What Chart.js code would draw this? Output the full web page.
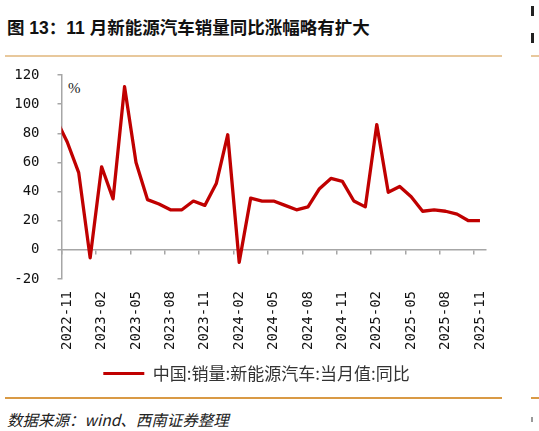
<!DOCTYPE html>
<html>
<head>
<meta charset="utf-8">
<script src="https://cdn.jsdelivr.net/npm/chart.js@4.4.1/dist/chart.umd.min.js"></script>
<style>
    html, body { margin: 0; padding: 0; background: #fff; }
    body { width: 539px; height: 431px; position: relative; overflow: hidden; }
    .title { position: absolute; left: 7px; top: 14px; font: bold 17.5px "Liberation Sans", "Noto Sans CJK SC", sans-serif; color: #111; white-space: nowrap; }
    .rule { position: absolute; height: 2px; }
    .rule-top { left: 5px; top: 55px; width: 497px; background: #e8c89c; }
    .rule-bottom { left: 5px; top: 397px; width: 497px; background: #d99a45; }
    .edge { position: absolute; left: 531px; width: 8px; height: 2px; }
    .frag { position: absolute; left: 531px; width: 2.5px; background: #222; }
    .source { position: absolute; left: 7px; top: 408px; font: italic 15.5px "Noto Sans CJK SC", sans-serif; color: #222; white-space: nowrap; }
    .unit { position: absolute; left: 68px; top: 80px; font: 15px "Liberation Serif", serif; color: #222; }
    #wrap { position: absolute; left: 0; top: 60px; width: 513px; height: 332px; }
</style>
</head>
<body>
<div class="title">图 13：11 月新能源汽车销量同比涨幅略有扩大</div>
<div class="rule rule-top"></div>
<div class="edge" style="top:55px;background:#e8c89c"></div>
<div class="frag" style="top:6px;height:10px"></div>
<div class="frag" style="top:33px;height:10px"></div>
<div class="unit">%</div>
<div id="wrap"><canvas id="nevChart"></canvas></div>
<div class="rule rule-bottom"></div>
<div class="edge" style="top:397px;background:#d99a45"></div>
<div class="frag" style="top:417px;height:5px;background:#999;width:2px"></div>
<div class="source">数据来源：wind、西南证券整理</div>

<script>
// months; the first one sits just left of the visible axis and is clipped
var months = [
    '2022-10', '2022-11', '2022-12',
    '2023-01', '2023-02', '2023-03', '2023-04', '2023-05', '2023-06',
    '2023-07', '2023-08', '2023-09', '2023-10', '2023-11', '2023-12',
    '2024-01', '2024-02', '2024-03', '2024-04', '2024-05', '2024-06',
    '2024-07', '2024-08', '2024-09', '2024-10', '2024-11', '2024-12',
    '2025-01', '2025-02', '2025-03', '2025-04', '2025-05', '2025-06',
    '2025-07', '2025-08', '2025-09', '2025-10', '2025-11'
];

// 中国:销量:新能源汽车:当月值:同比 (%)
var nevYoy = [
    90, 74, 53,
    -5.5, 57, 35, 112, 60, 34.5,
    31.5, 27.5, 27.5, 33.5, 30.5, 45.5,
    79, -8.5, 35.5, 33.5, 33.5, 30.5,
    27.5, 29.5, 42, 49, 47, 33.5,
    29.5, 86, 39.5, 43.5, 36.5, 26.5,
    27.5, 26.5, 24.5, 20, 20
];

var firstMonth = '2022-11';
var yTicks = [-20, 0, 20, 40, 60, 80, 100, 120];
var seriesName = '中国:销量:新能源汽车:当月值:同比';

(function() {
    'use strict';

    var AXIS_GREY = '#a6a6a6';
    var RED = '#c00000';

    function everyThird(value) {
        return (value - 1) % 3 === 0;
    }

    function renderChart() {
        var canvas = document.getElementById('nevChart');
        if (!canvas || typeof Chart === 'undefined') return;

        new Chart(canvas, {
            type: 'line',
            data: {
                labels: months,
                datasets: [{
                    label: seriesName,
                    data: nevYoy,
                    borderColor: RED,
                    backgroundColor: RED,
                    borderWidth: 3.3,
                    borderJoinStyle: 'round',
                    pointRadius: 0,
                    tension: 0,
                    clip: { left: 0, top: 6, right: 6, bottom: 6 },
                    xAxisID: 'x'
                }]
            },
            options: {
                responsive: true,
                maintainAspectRatio: false,
                animation: false,
                layout: { padding: { top: 15, right: 0, left: 0, bottom: 0 } },
                plugins: {
                    tooltip: { enabled: false },
                    legend: {
                        position: 'bottom',
                        labels: {
                            boxWidth: 41,
                            boxHeight: 3,
                            padding: 10,
                            color: '#333',
                            font: { family: '"Noto Sans CJK SC", sans-serif', size: 17 },
                            generateLabels: function(chart) {
                                var items = Chart.defaults.plugins.legend.labels.generateLabels(chart);
                                items.forEach(function(it) { it.lineWidth = 0; });
                                return items;
                            }
                        }
                    }
                },
                scales: {
                    x: {
                        type: 'category',
                        position: 'bottom',
                        min: firstMonth,
                        offset: true,
                        grid: { display: false, drawTicks: false },
                        border: { display: false },
                        ticks: {
                            autoSkip: false,
                            minRotation: 90,
                            maxRotation: 90,
                            padding: 12,
                            color: '#111',
                            font: { family: '"DejaVu Sans Mono", monospace', size: 14 },
                            callback: function(value) {
                                return everyThird(value) ? this.getLabelForValue(value) : '';
                            }
                        },
                        afterFit: function(scale) {
                            scale.height = 76;
                            scale.paddingLeft = 0;
                            scale.paddingRight = 0;
                        }
                    },
                    x0: {
                        type: 'category',
                        axis: 'x',
                        position: { y: 0 },
                        min: firstMonth,
                        offset: true,
                        ticks: { display: false, autoSkip: false },
                        border: { color: AXIS_GREY, width: 1.5 },
                        grid: {
                            offset: true,
                            drawOnChartArea: false,
                            drawTicks: true,
                            tickLength: 4,
                            lineWidth: 1.5,
                            color: function(ctx) {
                                if (!ctx.tick) return 'rgba(0,0,0,0)';
                                return everyThird(ctx.tick.value) ? AXIS_GREY : 'rgba(0,0,0,0)';
                            }
                        }
                    },
                    y: {
                        min: yTicks[0],
                        max: yTicks[yTicks.length - 1],
                        afterBuildTicks: function(scale) {
                            scale.ticks = yTicks.map(function(v) { return { value: v }; });
                        },
                        border: { color: AXIS_GREY, width: 1.5 },
                        grid: {
                            drawOnChartArea: false,
                            drawTicks: true,
                            tickLength: 4,
                            lineWidth: 1.5,
                            color: AXIS_GREY
                        },
                        ticks: {
                            padding: 18,
                            color: '#111',
                            font: { family: '"DejaVu Sans Mono", monospace', size: 14 }
                        },
                        afterFit: function(scale) {
                            scale.width = 61.5;
                            scale.paddingTop = 8;
                            scale.paddingBottom = 8;
                        }
                    },
                    // empty right-hand strip, keeps the plot narrower than the legend row
                    yRight: {
                        type: 'linear',
                        position: 'right',
                        grid: { display: false },
                        border: { display: false },
                        ticks: { display: false },
                        afterFit: function(scale) {
                            scale.width = 27.3;
                            scale.paddingTop = 0;
                            scale.paddingBottom = 0;
                        }
                    }
                }
            }
        });
    }

    if (document.readyState === 'loading') {
        document.addEventListener('DOMContentLoaded', renderChart);
    } else {
        renderChart();
    }
})();
</script>
</body>
</html>
